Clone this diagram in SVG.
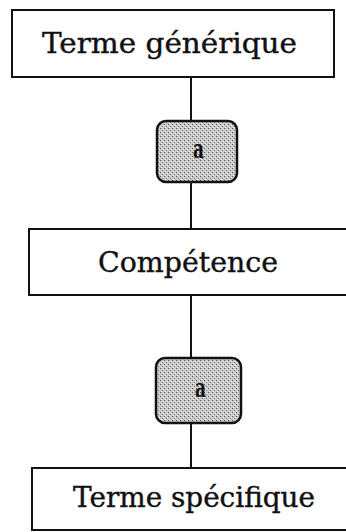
<svg xmlns="http://www.w3.org/2000/svg" width="346" height="532" viewBox="0 0 346 532">
<defs>
<pattern id="stip" width="4" height="4" patternUnits="userSpaceOnUse">
<rect width="4" height="4" fill="#c8c8c8"/>
<rect x="0" y="0" width="1" height="1" fill="#555"/>
<rect x="2" y="2" width="1" height="1" fill="#777"/>
<rect x="3" y="1" width="1" height="1" fill="#eee"/>
<rect x="1" y="3" width="1" height="1" fill="#eee"/>
</pattern>
<style>
.box{fill:#fff;stroke:#111;stroke-width:2}
.rel{fill:url(#stip);stroke:#111;stroke-width:2.5}
.lbl{font-family:"DejaVu Serif","Liberation Serif",serif;font-size:27px;fill:#111;stroke:#111;stroke-width:0.4}
.a{font-family:"DejaVu Serif","Liberation Serif",serif;font-size:26px;font-weight:bold;fill:#111}
.con{stroke:#111;stroke-width:2;fill:none}
</style>
</defs>
<g id="connectors">
<line class="con" x1="191" y1="77" x2="191" y2="121"/>
<line class="con" x1="191" y1="182" x2="191" y2="229"/>
<line class="con" x1="191" y1="295" x2="191" y2="358"/>
<line class="con" x1="191" y1="423" x2="191" y2="468"/>
</g>
<g id="node-generique">
<rect class="box" x="12" y="10" width="322" height="67"/>
<text class="lbl" x="42" y="53" textLength="255" lengthAdjust="spacingAndGlyphs">Terme générique</text>
</g>
<g id="rel-a1">
<rect class="rel" x="157" y="121" width="80" height="61" rx="9"/>
<text class="a" x="193" y="158" textLength="11" lengthAdjust="spacingAndGlyphs">a</text>
</g>
<g id="node-competence">
<rect class="box" x="29" y="229" width="330" height="66"/>
<text class="lbl" x="98" y="272" textLength="180" lengthAdjust="spacingAndGlyphs">Compétence</text>
</g>
<g id="rel-a2">
<rect class="rel" x="156" y="358" width="85" height="65" rx="9"/>
<text class="a" x="195" y="397" textLength="11" lengthAdjust="spacingAndGlyphs">a</text>
</g>
<g id="node-specifique">
<rect class="box" x="32" y="468" width="330" height="62"/>
<text class="lbl" x="73" y="507" textLength="242" lengthAdjust="spacingAndGlyphs">Terme spécifique</text>
</g>
</svg>
